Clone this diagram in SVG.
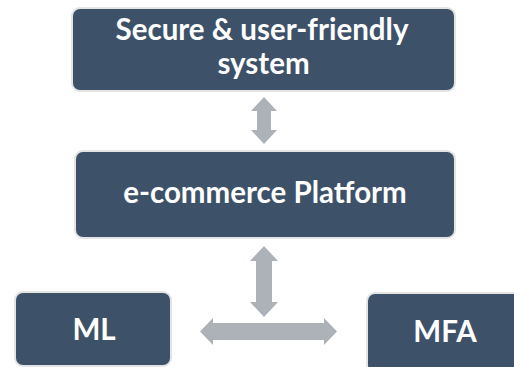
<svg xmlns="http://www.w3.org/2000/svg" width="514" height="367" viewBox="0 0 514 367">
<style>
.box{fill:#3D5169;stroke:#E4E4E4;stroke-width:2}
.t{fill:#FFFFFF;font-family:Lato,"Open Sans",sans-serif;font-weight:bold;text-anchor:middle;font-size:29.5px}
.arr{fill:#ADB1B8}
</style>
<rect width="514" height="367" fill="#FFFFFF"/>
<g id="secure">
<rect class="box" x="72" y="8" width="383" height="83" rx="8"/>
<text class="t" x="262" y="40">Secure &amp; user-friendly</text>
<text class="t" x="263.5" y="74">system</text>
</g>
<g id="platform">
<rect class="box" x="75" y="151" width="380" height="87" rx="8"/>
<text class="t" x="265" y="203">e-commerce Platform</text>
</g>
<g id="ml">
<rect class="box" x="15" y="292" width="156" height="74" rx="8"/>
<text class="t" x="94" y="340">ML</text>
</g>
<g id="mfa">
<rect class="box" x="367" y="293" width="160" height="80" rx="8"/>
<text class="t" x="445" y="342">MFA</text>
</g>
<g id="connectors">
<polygon class="arr" points="264,97 277,111 271,111 271,130 277,130 264,144 251,130 257,130 257,111 251,111"/>
<polygon class="arr" points="264,246 278,261 272,261 272,302 278,302 264,317 250,302 256,302 256,261 250,261"/>
<polygon class="arr" points="200,331.5 213,318 213,323 324,323 324,318 337,331.5 324,345 324,340 213,340 213,345"/>
</g>
</svg>
